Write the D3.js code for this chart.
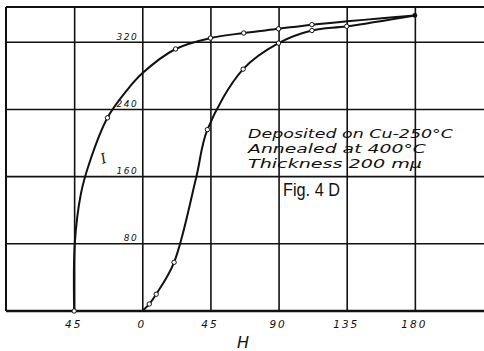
<!DOCTYPE html>
<html>
<head>
<meta charset="utf-8">
<script src="https://cdn.jsdelivr.net/npm/d3@7"></script>
<style>
  body { margin: 0; background: #fff; }
  svg { display: block; }
  .tick text { font-family: "DejaVu Sans", sans-serif; font-style: oblique; fill: #111; }
</style>
</head>
<body>
<div id="chart"></div>
<script>
const hTicks = [-45, 0, 45, 90, 135, 180];
const iTicks = [80, 160, 240, 320];

// descending branch
const downH = [-45, -44.6, -40.5, -35, -23, -10.5, 0, 22, 45, 67, 90, 112, 180];
const downI = [0, 80, 140, 176, 230, 262, 283, 312, 325, 331, 336, 341, 352];
const downMarkH = [-45, -23, 22, 45, 67, 90, 112];
const downMarkI = [0, 230, 312, 325, 331, 336, 341];

// ascending branch
const upH = [0, 4.6, 9.2, 21, 35.6, 43, 66.6, 90, 112, 135, 180];
const upI = [0, 8.3, 20, 58, 159, 216, 288, 319, 334, 339, 352];
const upMarkH = [4.6, 9.2, 21, 43, 66.6, 90, 112, 135];
const upMarkI = [8.3, 20, 58, 216, 288, 319, 334, 339];

const noteLines = ["Deposited on Cu-250°C", "Annealed at 400°C", "Thickness 200 mμ"];
const noteWidths = [205, 178, 174];

const width = 484, height = 351;
const ink = "#111";

const x = d3.scaleLinear().domain([-90, 225]).range([6, 483]);
const y = d3.scaleLinear().domain([0, 362]).range([311, 7]);

const svg = d3.select("#chart").append("svg")
    .attr("width", width)
    .attr("height", height);

// horizontal grid
svg.append("g")
    .selectAll("line")
    .data(iTicks)
    .join("line")
    .attr("x1", x(-90)).attr("x2", width)
    .attr("y1", d => y(d)).attr("y2", d => y(d))
    .attr("stroke", ink).attr("stroke-width", 1.6);

// frame: top and left border
svg.append("line")
    .attr("x1", x(-90)).attr("x2", width)
    .attr("y1", y(362)).attr("y2", y(362))
    .attr("stroke", ink).attr("stroke-width", 2);
svg.append("line")
    .attr("x1", x(-90)).attr("x2", x(-90))
    .attr("y1", y(362)).attr("y2", y(0))
    .attr("stroke", ink).attr("stroke-width", 2);

// x axis with vertical grid lines
const xAxis = d3.axisBottom(x)
    .tickValues(hTicks)
    .tickSize(-(y(0) - y(362)))
    .tickPadding(10)
    .tickFormat(d => Math.abs(d));
const gx = svg.append("g")
    .attr("transform", `translate(0,${y(0)})`)
    .call(xAxis);
gx.select(".domain").remove();
gx.selectAll(".tick line").attr("stroke", ink).attr("stroke-width", 1.6);
gx.selectAll(".tick text")
    .attr("font-size", 10.5)
    .attr("letter-spacing", 2)
    .attr("dx", -1);

// bottom baseline
svg.append("line")
    .attr("x1", x(-90)).attr("x2", width)
    .attr("y1", y(0)).attr("y2", y(0))
    .attr("stroke", ink).attr("stroke-width", 2.4);

// y labels sit left of H = 0, just above each line
const yAxis = d3.axisLeft(y)
    .tickValues(iTicks)
    .tickSize(0)
    .tickPadding(4);
const gy = svg.append("g")
    .attr("transform", `translate(${x(0)},0)`)
    .call(yAxis);
gy.select(".domain").remove();
gy.selectAll(".tick text")
    .attr("font-size", 9)
    .attr("letter-spacing", 1.5)
    .attr("dy", -3);

// curves
const line = d3.line()
    .x(d => x(d[0]))
    .y(d => y(d[1]))
    .curve(d3.curveCatmullRom.alpha(0.5));

svg.append("path")
    .datum(downH.map((h, i) => [h, downI[i]]))
    .attr("d", line)
    .attr("fill", "none").attr("stroke", ink).attr("stroke-width", 2);
svg.append("path")
    .datum(upH.map((h, i) => [h, upI[i]]))
    .attr("d", line)
    .attr("fill", "none").attr("stroke", ink).attr("stroke-width", 2);

// markers
const marks = downMarkH.map((h, i) => [h, downMarkI[i]])
    .concat(upMarkH.map((h, i) => [h, upMarkI[i]]));
svg.append("g")
    .selectAll("circle")
    .data(marks)
    .join("circle")
    .attr("cx", d => x(d[0]))
    .attr("cy", d => y(d[1]))
    .attr("r", 2.2)
    .attr("fill", "#fff")
    .attr("stroke", ink)
    .attr("stroke-width", 1);

// shared end point
svg.append("circle")
    .attr("cx", x(downH[downH.length - 1]))
    .attr("cy", y(downI[downI.length - 1]))
    .attr("r", 2.4)
    .attr("fill", ink);

// axis titles
svg.append("text")
    .attr("x", 243).attr("y", 348)
    .attr("text-anchor", "middle")
    .attr("font-family", "DejaVu Sans, sans-serif")
    .attr("font-style", "oblique")
    .attr("font-size", 16)
    .attr("fill", ink)
    .text("H");

svg.append("text")
    .attr("transform", "translate(105,163) rotate(-20)")
    .attr("text-anchor", "middle")
    .attr("font-family", "DejaVu Serif, serif")
    .attr("font-style", "italic")
    .attr("font-size", 14)
    .attr("fill", ink)
    .text("I");

// annotation
svg.append("g")
    .selectAll("text")
    .data(noteLines)
    .join("text")
    .attr("x", 248)
    .attr("y", (d, i) => 138 + i * 15)
    .attr("font-family", "DejaVu Sans, sans-serif")
    .attr("font-style", "oblique")
    .attr("font-size", 13)
    .attr("textLength", (d, i) => noteWidths[i])
    .attr("lengthAdjust", "spacingAndGlyphs")
    .attr("fill", ink)
    .text(d => d);

svg.append("text")
    .attr("x", 283).attr("y", 196)
    .attr("font-family", "Liberation Sans, sans-serif")
    .attr("font-size", 19)
    .attr("textLength", 57)
    .attr("lengthAdjust", "spacingAndGlyphs")
    .attr("fill", ink)
    .text("Fig. 4 D");
</script>
</body>
</html>
